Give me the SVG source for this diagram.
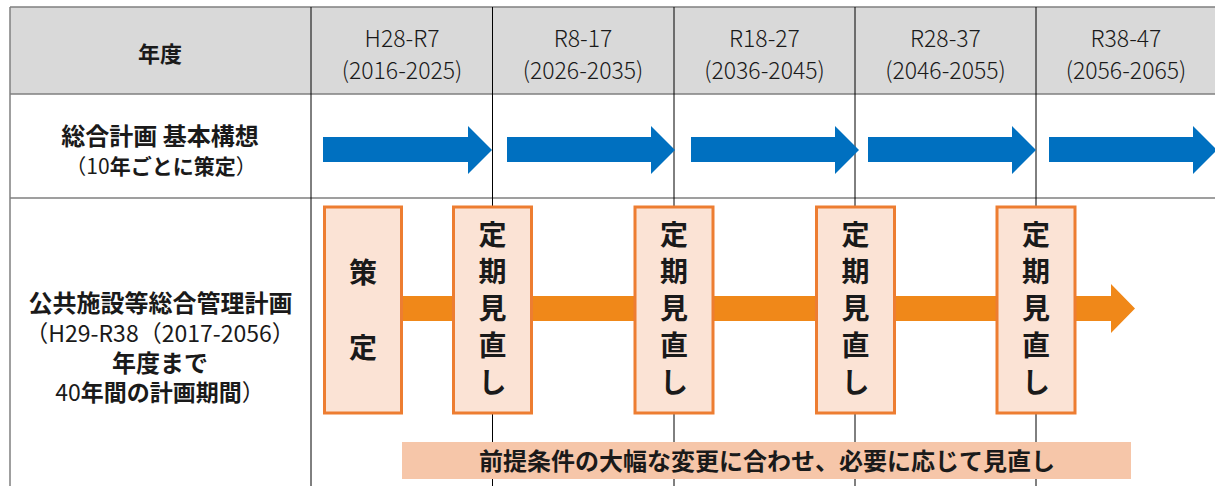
<svg xmlns="http://www.w3.org/2000/svg" width="1215" height="486" viewBox="0 0 1215 486">
<style>
.cjk{font-family:"Noto Sans CJK JP","Noto Sans",sans-serif;fill:#1a1a1a}
.b{font-weight:bold}
.n{font-weight:normal}
.hd{font-family:"Noto Sans CJK JP","Liberation Sans",sans-serif;font-size:23px;font-weight:300;fill:#1a1a1a;text-anchor:middle}
.grid{stroke:#7f7f7f;stroke-width:1.5;fill:none}
.col{stroke:#000;stroke-width:1}
.blue{fill:#0070C0}
.box{fill:#FBE3D5;stroke:#ED7D31;stroke-width:3}
.vt{font-family:"Noto Sans CJK JP",sans-serif;font-weight:bold;font-size:28px;fill:#1a1a1a;text-anchor:middle}
</style>
<rect x="0" y="0" width="1215" height="486" fill="#fff"/>
<rect x="10" y="7" width="1210" height="87" fill="#D9D9D9"/>
<g id="grid">
<line class="grid" x1="10" y1="7" x2="1215" y2="7"/>
<line class="grid" x1="10" y1="94" x2="1215" y2="94"/>
<line class="grid" x1="10" y1="198" x2="1215" y2="198"/>
<line class="grid" x1="10" y1="7" x2="10" y2="486"/>
<line class="col" x1="311" y1="7" x2="311" y2="486"/>
<line class="col" x1="492.5" y1="7" x2="492.5" y2="486"/>
<line class="col" x1="674" y1="7" x2="674" y2="486"/>
<line class="col" x1="855" y1="7" x2="855" y2="486"/>
<line class="col" x1="1036" y1="7" x2="1036" y2="486"/>
</g>
<g id="header">
<text class="cjk b" x="160" y="62" font-size="22" text-anchor="middle">年度</text>
<text class="hd" x="402" y="46.5">H28-R7</text>
<text class="hd" x="402" y="79">(2016-2025)</text>
<text class="hd" x="583" y="46.5">R8-17</text>
<text class="hd" x="583" y="79">(2026-2035)</text>
<text class="hd" x="764.5" y="46.5">R18-27</text>
<text class="hd" x="764.5" y="79">(2036-2045)</text>
<text class="hd" x="945.5" y="46.5">R28-37</text>
<text class="hd" x="945.5" y="79">(2046-2055)</text>
<text class="hd" x="1126" y="46.5">R38-47</text>
<text class="hd" x="1126" y="79">(2056-2065)</text>
</g>
<g id="row-sogo-label">
<text class="cjk b" x="160" y="145" font-size="24" text-anchor="middle">総合計画 基本構想</text>
<text class="cjk" x="161" y="174" font-size="21" text-anchor="middle"><tspan class="n">（10</tspan><tspan class="b">年ごとに策定</tspan><tspan class="n">）</tspan></text>
</g>
<g id="row-kokyo-label">
<text class="cjk b" x="160.5" y="312" font-size="24" text-anchor="middle">公共施設等総合管理計画</text>
<text class="cjk n" x="160" y="342" font-size="23" text-anchor="middle">（H29-R38（2017-2056）</text>
<text class="cjk b" x="160" y="372" font-size="24" text-anchor="middle">年度まで</text>
<text class="cjk" x="160" y="401" font-size="23" text-anchor="middle"><tspan class="n">40</tspan><tspan class="b">年間の計画期間</tspan><tspan class="n">）</tspan></text>
</g>
<g id="blue-arrows">
<polygon id="arrow-1" class="blue" points="323,137 468,137 468,126 492,150 468,174 468,162 323,162"/>
<polygon id="arrow-2" class="blue" points="507,137 651,137 651,126 675,150 651,174 651,162 507,162"/>
<polygon id="arrow-3" class="blue" points="691,137 835,137 835,126 859,150 835,174 835,162 691,162"/>
<polygon id="arrow-4" class="blue" points="868,137 1012,137 1012,126 1036,150 1012,174 1012,162 868,162"/>
<polygon id="arrow-5" class="blue" points="1049,137 1193,137 1193,126 1217,150 1193,174 1193,162 1049,162"/>
</g>
<g id="connectors">
<polygon id="orange-arrow" fill="#F08819" points="403,296 1111,296 1111,284 1135,308.5 1111,333 1111,321 403,321"/>
</g>
<g id="box-sakutei">
<rect class="box" x="324.5" y="207" width="77" height="206"/>
<text class="vt"><tspan x="363" y="283">策</tspan><tspan x="363" y="358">定</tspan></text>
</g>
<g id="box-review-1">
<rect class="box" x="453.5" y="207" width="78" height="206"/>
<text class="vt"><tspan x="492.5" y="245">定</tspan><tspan x="492.5" y="282">期</tspan><tspan x="492.5" y="319">見</tspan><tspan x="492.5" y="356">直</tspan><tspan x="492.5" y="393">し</tspan></text>
</g>
<g id="box-review-2">
<rect class="box" x="635" y="207" width="78" height="206"/>
<text class="vt"><tspan x="674" y="245">定</tspan><tspan x="674" y="282">期</tspan><tspan x="674" y="319">見</tspan><tspan x="674" y="356">直</tspan><tspan x="674" y="393">し</tspan></text>
</g>
<g id="box-review-3">
<rect class="box" x="816.5" y="207" width="78" height="206"/>
<text class="vt"><tspan x="855.5" y="245">定</tspan><tspan x="855.5" y="282">期</tspan><tspan x="855.5" y="319">見</tspan><tspan x="855.5" y="356">直</tspan><tspan x="855.5" y="393">し</tspan></text>
</g>
<g id="box-review-4">
<rect class="box" x="997" y="207" width="78" height="206"/>
<text class="vt"><tspan x="1036" y="245">定</tspan><tspan x="1036" y="282">期</tspan><tspan x="1036" y="319">見</tspan><tspan x="1036" y="356">直</tspan><tspan x="1036" y="393">し</tspan></text>
</g>
<g id="bar-note">
<rect x="402" y="442" width="729" height="37" fill="#F6C6A9"/>
<text class="cjk b" x="767" y="470" font-size="24" text-anchor="middle">前提条件の大幅な変更に合わせ、必要に応じて見直し</text>
</g>
</svg>
